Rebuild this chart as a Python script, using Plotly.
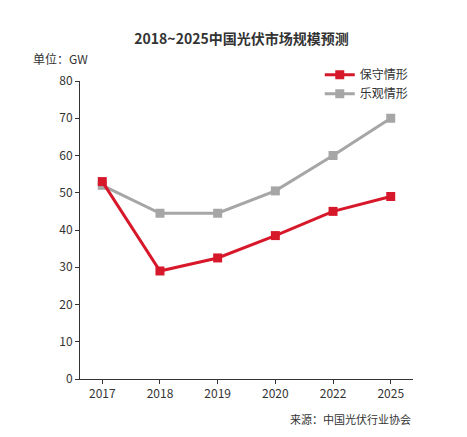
import plotly.graph_objects as go

years = ["2017", "2018", "2019", "2020", "2022", "2025"]
conservative = [53, 29, 32.5, 38.5, 45, 49]
optimistic = [52, 44.5, 44.5, 50.5, 60, 70]

RED = "#d7182a"
GRAY = "#a6a6a6"
FONT = "Noto Sans CJK SC"

fig = go.Figure()
fig.add_trace(go.Scatter(x=years, y=optimistic, name="乐观情形", mode="lines+markers",
                         line=dict(color=GRAY, width=3),
                         marker=dict(symbol="square", size=9, color=GRAY)))
fig.add_trace(go.Scatter(x=years, y=conservative, name="保守情形", mode="lines+markers",
                         line=dict(color=RED, width=3),
                         marker=dict(symbol="square", size=9, color=RED)))

fig.update_layout(
    width=467, height=437,
    paper_bgcolor="white", plot_bgcolor="white",
    font=dict(family=FONT, size=12, color="#333"),
    margin=dict(l=72, r=62, t=73, b=59 + 7),
    title=dict(text="<b>2018~2025中国光伏市场规模预测</b>", x=0.5, y=0.94,
               xanchor="center", font=dict(size=14, color="#333")),
    legend=dict(x=0.72, y=1.07, xanchor="left", yanchor="top",
                traceorder="reversed", bgcolor="rgba(0,0,0,0)",
                font=dict(size=12)),
    showlegend=True,
    annotations=[
        dict(text="单位：GW", x=0.0, y=1.04, xref="paper", yref="paper",
             xanchor="right", yanchor="bottom", showarrow=False, xshift=10),
        dict(text="来源：中国光伏行业协会", x=1.0, y=0, xref="paper", yref="paper",
             xanchor="right", yanchor="middle", yshift=-40, showarrow=False,
             font=dict(size=11)),
    ],
)
fig.update_xaxes(showline=True, linecolor="#333", linewidth=1, mirror=False,
                 ticks="outside", ticklen=4, tickcolor="#333", showgrid=False)
fig.update_yaxes(range=[0, 80], dtick=10, showline=True, linecolor="#333",
                 linewidth=1, ticks="outside", ticklen=4, tickcolor="#333",
                 showgrid=False, zeroline=False)

fig.write_html("out.html")
